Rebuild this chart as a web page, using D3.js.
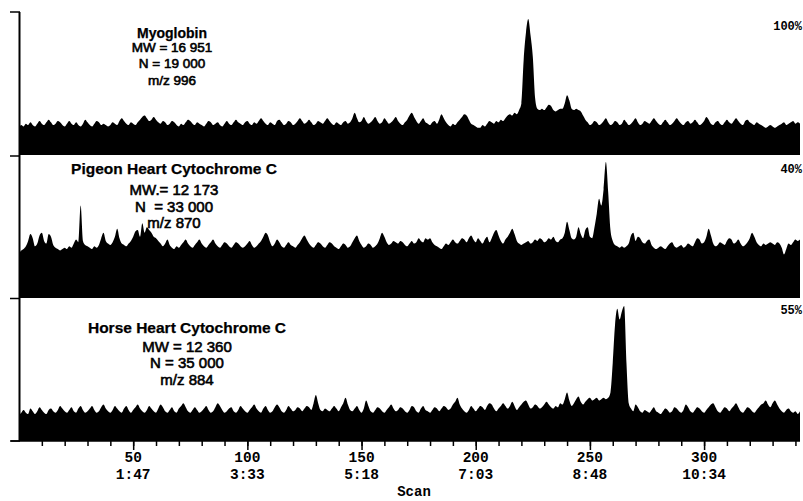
<!DOCTYPE html>
<html>
<head>
<meta charset="utf-8">
<script src="https://cdn.jsdelivr.net/npm/d3@7"></script>
<style>
  body { margin: 0; background: #fff; }
  svg { display: block; }
  .lbl { font-family: "Liberation Sans", Arial, sans-serif; white-space: pre; fill: #000; stroke: #000; stroke-width: 0.6px; }
  .ttl { font-weight: bold; stroke-width: 0.25px; }
  .mono { font-family: "Liberation Mono", "Courier New", monospace; font-weight: bold; fill: #000; }
</style>
</head>
<body>
<div id="chart"></div>
<script>
// ticks of the scan axis and the matching retention times
var scanTicks = [50, 100, 150, 200, 250, 300]
var timeLabels = ["1:47", "3:33", "5:18", "7:03", "8:48", "10:34"]

// relative intensity (% of each trace's own max), one value per scan 0..342
var myoglobin = [
  20,22,21,23,22,24,22,21,23,25,23,22,24,26,24,22,23,25,24,22,
  21,23,25,23,22,24,22,21,23,26,24,22,21,23,25,24,22,23,22,21,
  22,24,23,22,25,27,25,23,22,24,23,22,24,26,28,29,27,25,26,28,
  26,24,23,25,24,22,23,25,24,22,21,23,22,24,26,25,23,22,24,23,
  22,21,23,25,24,22,23,24,22,21,23,25,23,22,24,26,24,23,22,24,
  25,23,22,24,23,25,27,25,23,22,24,23,22,25,26,24,22,23,25,24,
  22,23,25,27,25,23,24,26,24,22,23,25,24,23,25,27,25,23,22,24,
  23,22,24,25,23,24,27,31,27,24,25,28,25,23,24,26,28,25,23,24,
  27,25,23,24,26,28,25,23,22,24,26,29,31,28,25,23,25,27,24,23,
  22,24,25,23,26,30,27,24,22,21,23,22,24,26,28,30,29,26,23,22,
  21,20,20,22,21,23,25,24,23,25,24,26,25,27,29,30,29,31,30,33,
  38,70,90,100,88,72,42,34,33,34,33,35,37,36,33,32,33,34,34,38,
  44,40,34,33,34,33,32,29,26,24,22,23,25,24,22,23,25,27,24,22,
  23,25,24,22,23,26,24,22,23,25,27,24,22,23,25,24,23,25,27,25,
  23,22,24,26,24,22,23,25,27,25,23,22,24,25,23,24,26,24,22,23,
  25,28,26,23,22,24,25,23,22,24,26,24,23,25,27,25,23,22,25,26,
  24,23,22,24,23,22,21,20,21,22,21,20,21,22,23,24,22,23,24,25,
  23,24,23
]

var pigeon = [
  33,35,36,38,42,47,44,38,40,46,48,42,40,47,45,39,37,36,35,36,
  37,36,38,37,40,43,41,68,42,39,38,37,36,38,37,39,44,48,42,40,
  39,41,45,51,44,40,39,38,40,42,45,49,50,45,55,48,52,50,48,45,
  44,42,40,38,40,43,39,37,36,38,37,39,41,43,40,38,37,39,41,43,
  40,38,37,39,41,43,40,38,37,39,41,40,38,37,39,41,40,38,37,38,
  40,42,39,37,38,40,42,45,48,46,41,38,40,43,41,38,37,39,41,39,
  38,37,39,41,44,46,43,40,38,37,39,41,40,38,37,39,41,40,38,37,
  36,38,40,39,37,38,41,44,46,42,39,37,38,40,39,37,38,40,44,48,
  45,41,39,40,42,41,40,42,41,39,38,40,42,40,41,44,42,41,44,43,
  44,41,39,38,37,36,38,40,39,41,43,41,40,42,44,43,41,44,46,43,
  41,44,42,40,43,45,41,44,48,50,46,42,40,43,45,48,51,47,42,40,
  39,40,41,42,40,41,43,42,44,43,41,42,44,43,45,42,41,43,44,48,
  56,50,44,43,45,52,47,44,50,52,45,44,52,62,73,68,80,100,78,50,
  42,39,38,37,38,37,38,40,46,48,42,45,44,41,40,42,43,39,37,36,
  37,38,37,36,38,40,41,38,37,38,39,37,38,40,39,38,41,44,43,40,
  41,45,51,46,40,38,39,41,40,39,42,44,43,40,41,43,40,38,39,41,
  44,48,45,41,39,38,40,39,40,41,40,39,41,40,37,32,36,40,39,41,
  43,42,43
]

var horse = [
  19,21,23,21,20,24,22,20,22,25,23,21,20,23,24,22,21,23,26,24,
  22,21,23,25,22,21,24,26,23,21,22,24,26,23,21,22,25,27,24,22,
  21,23,26,24,22,21,24,26,23,21,23,25,27,24,22,21,23,26,24,22,
  21,24,27,25,22,21,23,25,22,21,24,26,28,25,22,21,23,25,23,21,
  22,24,26,23,21,22,25,28,26,23,21,22,24,25,22,21,23,26,24,22,
  21,23,25,27,24,22,21,24,26,23,21,22,25,27,25,22,21,23,26,24,
  22,23,25,24,22,24,26,25,23,28,34,28,23,22,24,23,22,24,26,24,
  22,25,28,32,27,23,22,24,26,23,21,24,30,26,22,21,23,25,24,22,
  21,23,25,27,24,22,23,25,24,22,21,23,26,25,22,21,24,26,23,22,
  21,23,25,24,22,24,26,25,23,24,27,29,32,27,24,22,21,23,26,24,
  22,24,26,25,23,26,28,27,24,22,24,26,28,26,24,26,29,26,23,25,
  27,29,30,27,24,25,27,26,24,25,27,29,27,25,24,26,25,28,27,31,
  36,30,26,28,31,33,29,27,29,31,32,30,31,32,30,31,32,31,32,36,
  58,86,98,90,96,100,58,28,24,22,27,25,22,21,23,22,21,23,25,22,
  21,20,22,24,23,21,22,25,24,22,21,23,27,25,22,21,23,25,24,22,
  21,23,25,27,28,25,22,21,23,25,24,22,24,26,28,25,22,21,23,25,
  24,22,21,23,25,27,28,30,27,25,28,30,27,24,22,21,23,24,22,21,
  22,20,22
]

var myoLabels = ["Myoglobin", "MW = 16 951", "N = 19 000", "m/z 996"]
var pigeonLabels = ["Pigeon Heart Cytochrome C", "MW.= 12 173", "N  = 33 000", "m/z 870"]
var horseLabels = ["Horse Heart Cytochrome C", "MW = 12 360", "N = 35 000", "m/z 884"]
var scaleLabels = ["100%", "40%", "55%"]

var width = 803,
    height = 501

var svg = d3.select("#chart")
    .append("svg")
    .attr("width", width)
    .attr("height", height)

var x = d3.scaleLinear()
    .domain([0, 342])
    .range([19, 800])

// one entry per stacked trace: baseline, y of the 100% point, label block
var panels = [
    { data: myoglobin, bottom: 155, top: 19, labels: myoLabels, cx: 172, lines: [38, 51.5, 68, 85], ts: 14, fs: 13.5, pct: 30 },
    { data: pigeon, bottom: 298, top: 162, labels: pigeonLabels, cx: 174, lines: [174, 195, 211.5, 228], ts: 15.5, fs: 15, pct: 173 },
    { data: horse, bottom: 441, top: 306, labels: horseLabels, cx: 187, lines: [333, 351.5, 368, 385], ts: 15.5, fs: 15, pct: 314 }
]

panels.forEach(function (p, k) {
    var y = d3.scaleLinear()
        .domain([0, 100])
        .range([p.bottom, p.top])

    var area = d3.area()
        .x(function (d, i) { return x(i) })
        .y0(p.bottom)
        .y1(function (d) { return y(d) })
        .curve(d3.curveMonotoneX)

    svg.append("path")
        .datum(p.data)
        .attr("d", area)
        .attr("fill", "#000")

    svg.selectAll(null)
        .data(p.labels)
        .enter()
        .append("text")
        .attr("class", function (d, i) { return i == 0 ? "lbl ttl" : "lbl" })
        .attr("x", p.cx)
        .attr("y", function (d, i) { return p.lines[i] })
        .attr("text-anchor", "middle")
        .style("font-size", function (d, i) { return (i == 0 ? p.ts : p.fs) + "px" })
        .text(function (d) { return d })

    svg.append("text")
        .attr("class", "mono")
        .attr("x", 802)
        .attr("y", p.pct)
        .attr("text-anchor", "end")
        .style("font-size", "12px")
        .text(scaleLabels[k])
})

// left frame with a tick at every trace boundary
svg.append("line")
    .attr("x1", 19.5).attr("x2", 19.5)
    .attr("y1", 12).attr("y2", 441)
    .attr("stroke", "#000")
    .attr("stroke-width", 2)

svg.selectAll(null)
    .data([12, 156, 298.5, 441])
    .enter()
    .append("line")
    .attr("x1", 10).attr("x2", 20)
    .attr("y1", function (d) { return d })
    .attr("y2", function (d) { return d })
    .attr("stroke", "#000")
    .attr("stroke-width", 1.5)

// scan axis: minor ticks every 10, longer ones at the labelled scans
var minor = svg.append("g")
    .attr("transform", "translate(0,441)")
    .call(d3.axisBottom(x).tickValues(d3.range(10, 342, 10)).tickSize(5).tickSizeOuter(0).tickFormat(""))
minor.select(".domain").remove()

var major = svg.append("g")
    .attr("transform", "translate(0,441)")
    .call(d3.axisBottom(x).tickValues(scanTicks).tickSize(9).tickSizeOuter(0).tickFormat(""))
major.select(".domain").remove()

svg.selectAll(".tick line")
    .attr("stroke", "#000")
    .attr("stroke-width", 1.5)

svg.append("line")
    .attr("x1", 11).attr("x2", 800)
    .attr("y1", 441).attr("y2", 441)
    .attr("stroke", "#000")
    .attr("stroke-width", 1.5)

svg.selectAll(null)
    .data(scanTicks)
    .enter()
    .append("text")
    .attr("class", "mono")
    .attr("x", function (d) { return x(d) })
    .attr("y", 462)
    .attr("text-anchor", "middle")
    .style("font-size", "14.5px")
    .text(function (d) { return d })

svg.selectAll(null)
    .data(timeLabels)
    .enter()
    .append("text")
    .attr("class", "mono")
    .attr("x", function (d, i) { return x(scanTicks[i]) })
    .attr("y", 479)
    .attr("text-anchor", "middle")
    .style("font-size", "14.5px")
    .text(function (d) { return d })

svg.append("text")
    .attr("class", "mono")
    .attr("x", 414)
    .attr("y", 496)
    .attr("text-anchor", "middle")
    .style("font-size", "14px")
    .text("Scan")
</script>
</body>
</html>
